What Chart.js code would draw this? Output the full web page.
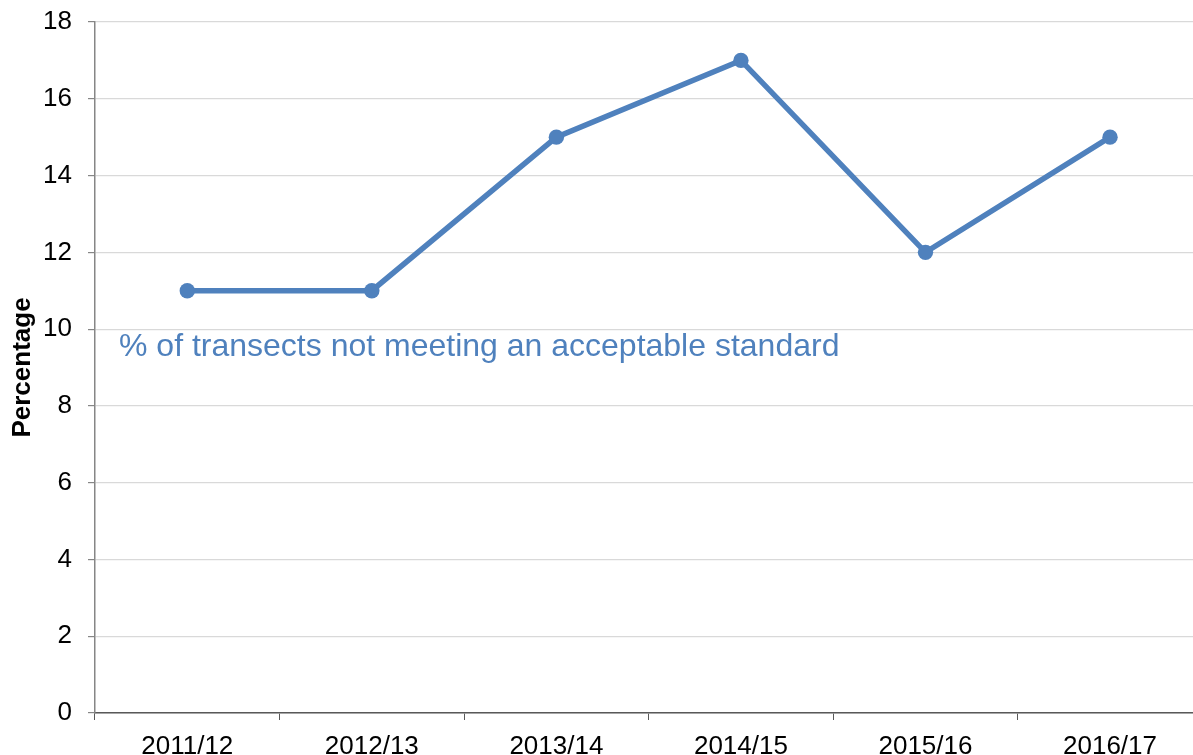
<!DOCTYPE html>
<html>
<head>
<meta charset="utf-8">
<title>Transects not meeting an acceptable standard</title>
<script src="https://cdn.jsdelivr.net/npm/chart.js@4/dist/chart.umd.min.js"></script>
<style>
  html, body { margin: 0; padding: 0; background: #ffffff; overflow: hidden; }
  #wrap { position: absolute; left: 0; top: 0; width: 1210px; height: 755px; }
</style>
</head>
<body>
<div id="wrap"><canvas id="chart" width="1210" height="755"></canvas></div>
<script>
// Financial years surveyed
const years = ['2011/12', '2012/13', '2013/14', '2014/15', '2015/16', '2016/17'];
// Share of transects failing the standard, per year (%)
const failingPct = [11, 11, 15, 17, 12, 15];
// Value-axis ticks
const yTicks = [0, 2, 4, 6, 8, 10, 12, 14, 16, 18];

const seriesLabel = '% of transects not meeting an acceptable standard';
const blue = '#4F81BD';
const fontFamily = '"Liberation Sans", Arial, Helvetica, sans-serif';

// Writes the series name inside the plot, just under the 10% gridline
const seriesNote = {
  id: 'seriesNote',
  afterDatasetsDraw(chart) {
    const { ctx, chartArea, scales } = chart;
    ctx.save();
    ctx.font = '32px ' + fontFamily;
    ctx.fillStyle = blue;
    ctx.textAlign = 'left';
    ctx.textBaseline = 'alphabetic';
    ctx.fillText(seriesLabel, chartArea.left + 24, scales.y.getPixelForValue(10) + 27);
    ctx.restore();
  }
};

new Chart(document.getElementById('chart'), {
  type: 'line',
  data: {
    labels: years,
    datasets: [{
      label: seriesLabel,
      data: failingPct,
      borderColor: blue,
      backgroundColor: blue,
      borderWidth: 5.5,
      pointRadius: 7.7,
      pointHoverRadius: 7.7,
      pointBackgroundColor: blue,
      pointBorderWidth: 0,
      tension: 0,
      fill: false
    }]
  },
  options: {
    responsive: false,
    devicePixelRatio: 1,
    animation: false,
    layout: { padding: { top: 22, right: 7, left: 0, bottom: 0 } },
    plugins: {
      legend: { display: false },
      tooltip: { enabled: false }
    },
    scales: {
      x: {
        type: 'category',
        offset: true,
        grid: {
          offset: true,
          drawOnChartArea: false,
          drawTicks: true,
          tickLength: 7,
          tickColor: '#595959'
        },
        border: { display: true, color: '#595959', width: 1.5 },
        ticks: {
          color: '#000000',
          font: { family: fontFamily, size: 26 },
          padding: 11,
          maxRotation: 0,
          autoSkip: false
        },
        afterFit(scale) {
          scale.height = 42;
          scale.paddingLeft = 0;
          scale.paddingRight = 0;
        }
      },
      y: {
        min: 0,
        max: 18,
        afterBuildTicks(scale) { scale.ticks = yTicks.map(v => ({ value: v })); },
        grid: {
          color: '#D9D9D9',
          lineWidth: 1.2,
          drawTicks: true,
          tickLength: 7,
          tickColor: '#868686'
        },
        border: { display: true, color: '#868686', width: 1.5 },
        ticks: {
          color: '#000000',
          font: { family: fontFamily, size: 26 },
          padding: 16
        },
        title: {
          display: true,
          text: 'Percentage',
          color: '#000000',
          font: { family: fontFamily, size: 26, weight: 'bold' },
          padding: { top: 7, bottom: 0 }
        },
        afterFit(scale) {
          scale.width = 95;
          scale.paddingTop = 0;
          scale.paddingBottom = 0;
        }
      }
    }
  },
  plugins: [seriesNote]
});
</script>
</body>
</html>
